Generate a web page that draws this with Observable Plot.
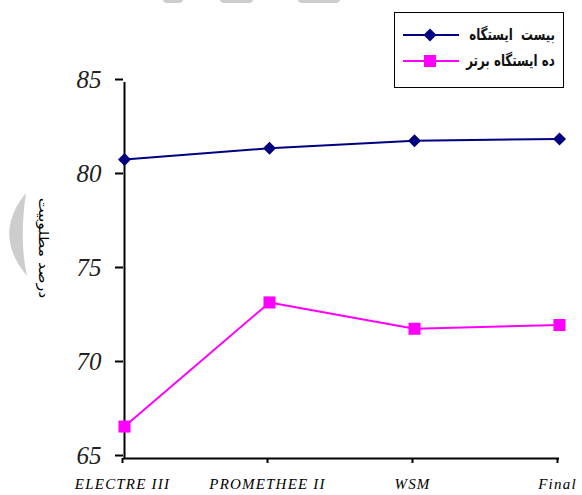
<!DOCTYPE html>
<html>
<head>
<meta charset="utf-8">
<script src="https://cdn.jsdelivr.net/npm/d3@7"></script>
<script src="https://cdn.jsdelivr.net/npm/@observablehq/plot@0.6"></script>
<style>
  body { margin: 0; background: #fff; }
  #chart { position: relative; width: 582px; height: 495px; overflow: hidden; }
  #chart > svg.plot { position: absolute; left: 0; top: 0; }
  .mark-bg { position: absolute; left: 0; top: 0; }
  svg.plot g[aria-label="x-axis tick label"] text { letter-spacing: 1.2px; }
  .ylabel {
    position: absolute; left: 43px; top: 248px; width: 0; height: 0;
  }
  .ylabel span {
    position: absolute; left: 0; top: 0; white-space: nowrap;
    font-family: "DejaVu Sans", sans-serif; font-size: 15px; color: #000;
    transform: translate(-50%, -50%) rotate(90deg) scale(1.05, 0.9);
  }
  .legend {
    position: absolute; left: 394px; top: 12px; width: 168px; height: 74px;
    border: 1.5px solid #000; background: #fff;
  }
  .legend .row { position: absolute; left: 0; width: 168px; height: 22px; }
  .legend .row svg { position: absolute; left: 7px; top: 1px; }
  .legend .row .txt {
    position: absolute; right: 8px; top: 0; line-height: 22px;
    font-family: "DejaVu Sans", sans-serif; font-size: 16px; font-weight: bold; color: #111;
    white-space: pre; direction: rtl;
    transform: scaleX(0.74); transform-origin: right center;
  }
</style>
</head>
<body>
<div id="chart"></div>
<script>
// Methods compared along the horizontal axis
const methods = ["ELECTRE III", "PROMETHEE II", "WSM", "Final"];
// Desirability percentage for all twenty stations
const allStations = [80.9, 81.5, 81.9, 82.0];
// Desirability percentage for the top ten stations
const topTen = [66.7, 73.3, 71.9, 72.1];
const seriesNames = ["بیست  ایستگاه", "ده ایستگاه برتر"];
const seriesColors = ["#000080", "#ff00ff"];
const yTicks = [65, 70, 75, 80, 85];
const yLabel = "درصد مطلوبیت";

const rowsA = methods.map((m, i) => ({method: m, value: allStations[i], series: seriesNames[0]}));
const rowsB = methods.map((m, i) => ({method: m, value: topTen[i], series: seriesNames[1]}));

const serif = "'Liberation Serif', 'Times New Roman', serif";

const chart = Plot.plot({
  width: 582,
  height: 495,
  marginLeft: 123,
  marginRight: 23,
  marginTop: 82,
  marginBottom: 37,
  x: {type: "point", domain: methods, padding: 0},
  y: {domain: [65, 85]},
  color: {domain: seriesNames, range: seriesColors},
  marks: [
    Plot.axisY({
      ticks: yTicks, tickSize: 8, tickPadding: 14, label: null,
      fontSize: 25, fontFamily: serif, fontStyle: "italic",
      stroke: "#000", strokeWidth: 2, dy: -3, color: "#222"
    }),
    Plot.axisX({
      tickSize: 5, tickPadding: 15, label: null,
      fontSize: 15, fontFamily: serif, fontStyle: "italic",
      stroke: "#000", strokeWidth: 2, dx: -2
    }),
    Plot.ruleX([methods[0]], {stroke: "#000", strokeWidth: 2}),
    Plot.ruleY([65], {stroke: "#000", strokeWidth: 2}),
    Plot.line(rowsA, {x: "method", y: "value", stroke: "series", strokeWidth: 2}),
    Plot.line(rowsB, {x: "method", y: "value", stroke: "series", strokeWidth: 2}),
    Plot.dot(rowsA, {x: "method", y: "value", symbol: "square", rotate: 45, r: 5.2, fill: "series", stroke: "none"}),
    Plot.dot(rowsB, {x: "method", y: "value", symbol: "square", r: 6.8, fill: "series", stroke: "none"})
  ]
});
chart.classList.add("plot");

const host = document.getElementById("chart");

// faint grey decorative shapes behind the chart
const bg = d3.create("svg").attr("class", "mark-bg").attr("width", 582).attr("height", 495);
bg.append("path").attr("d", "M26 193 Q-8 234 27 276 Q19 240 26 193 Z").attr("fill", "#cdcdcd");
[[163, 20], [220, 33], [298, 42]].forEach(([x, w]) =>
  bg.append("rect").attr("x", x).attr("y", -6).attr("width", w).attr("height", 9).attr("rx", 4).attr("fill", "#cdcdcd"));
host.appendChild(bg.node());
host.appendChild(chart);

// vertical axis title
const yl = document.createElement("div");
yl.className = "ylabel";
const ys = document.createElement("span");
ys.textContent = yLabel;
yl.appendChild(ys);
host.appendChild(yl);

// legend box
const legend = document.createElement("div");
legend.className = "legend";
seriesNames.forEach((name, i) => {
  const row = document.createElement("div");
  row.className = "row";
  row.style.top = (11 + i * 26) + "px";
  const s = d3.create("svg").attr("width", 58).attr("height", 20);
  s.append("line").attr("x1", 1).attr("x2", 57).attr("y1", 10).attr("y2", 10)
    .attr("stroke", seriesColors[i]).attr("stroke-width", 2);
  if (i === 0) {
    s.append("rect").attr("x", -4.6).attr("y", -4.6).attr("width", 9.2).attr("height", 9.2)
      .attr("transform", "translate(28,10) rotate(45)").attr("fill", seriesColors[i]);
  } else {
    s.append("rect").attr("x", 22).attr("y", 4).attr("width", 12).attr("height", 12).attr("fill", seriesColors[i]);
  }
  row.appendChild(s.node());
  const t = document.createElement("div");
  t.className = "txt";
  t.textContent = name;
  row.appendChild(t);
  legend.appendChild(row);
});
host.appendChild(legend);
</script>
</body>
</html>
